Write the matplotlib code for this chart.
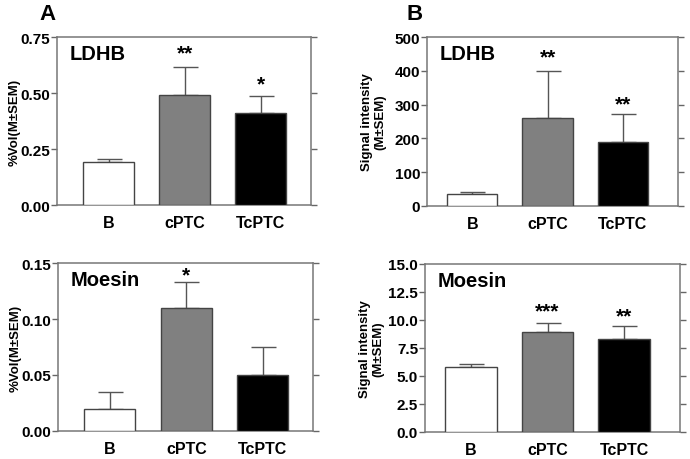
import matplotlib.pyplot as plt
import numpy as np

plt.rcParams['font.family'] = ['Liberation Sans', 'DejaVu Sans']
plt.rcParams['font.weight'] = 'bold'

groups = ['B', 'cPTC', 'TcPTC']
bar_colors = ['white', '#808080', 'black']

# panel A: %Vol
ldhb_vol = [0.19, 0.49, 0.41]
ldhb_vol_err = [0.015, 0.125, 0.075]
moesin_vol = [0.02, 0.11, 0.05]
moesin_vol_err = [0.015, 0.023, 0.025]

# panel B: signal intensity
ldhb_sig = [35, 260, 188]
ldhb_sig_err = [7, 138, 84]
moesin_sig = [5.8, 8.9, 8.3]
moesin_sig_err = [0.3, 0.8, 1.2]

ldhb_vol_stars = ['', '**', '*']
ldhb_sig_stars = ['', '**', '**']
moesin_vol_stars = ['', '*', '']
moesin_sig_stars = ['', '***', '**']

fig = plt.figure(figsize=(6.9, 4.6), dpi=100)
W, H = 690, 460

def panel(rect, vals, errs, stars, star_y, ylim, yticks, ticklabels, ylabel, name, xlim, lpad):
    l, t, r, b = rect
    ax = fig.add_axes([l / W, 1 - b / H, (r - l) / W, (b - t) / H])
    x = np.arange(len(groups))
    ax.bar(x, vals, width=0.67, color=bar_colors, edgecolor='#444444', linewidth=1.0, zorder=3)
    ax.errorbar(x, vals, yerr=[np.zeros(len(vals)), errs], fmt='none', ecolor='#555555',
                elinewidth=1.0, capsize=9, capthick=1.0, zorder=2)
    for xi, s, sy in zip(x, stars, star_y):
        if s:
            ax.text(xi, sy, s, ha='center', va='center', fontsize=15, fontweight='bold')
    ax.set_xlim(*xlim)
    ax.set_ylim(*ylim)
    ax.set_yticks(yticks)
    ax.set_yticklabels(ticklabels, fontsize=11, fontweight='bold')
    ax.set_xticks(x)
    ax.set_xticklabels(groups, fontsize=11.5, fontweight='bold')
    ax.tick_params(axis='x', length=0, pad=7)
    ax.tick_params(axis='y', direction='out', length=4, color='#666666', width=1.0, pad=1,
                   right=True, labelright=False)
    for sp in ax.spines.values():
        sp.set_color('#777777')
        sp.set_linewidth(1.1)
    ax.set_ylabel(ylabel, fontsize=9.5, fontweight='bold', labelpad=lpad, linespacing=1.1)
    ax.text(0.05, 0.9, name, transform=ax.transAxes, ha='left', va='center',
            fontsize=14.5, fontweight='bold')
    return ax

panel((57, 38, 311, 206), ldhb_vol, ldhb_vol_err, ldhb_vol_stars, [0.0, 0.68, 0.54],
      (0, 0.75), [0, 0.25, 0.5, 0.75], ['0.00', '0.25', '0.50', '0.75'],
      '%Vol(M±SEM)', 'LDHB', (-0.68, 2.66), 0)
panel((427, 38, 678, 207), ldhb_sig, ldhb_sig_err, ldhb_sig_stars, [0, 441, 302],
      (0, 500), [0, 100, 200, 300, 400, 500], ['0', '100', '200', '300', '400', '500'],
      'Signal intensity\n(M±SEM)', 'LDHB', (-0.6, 2.73), 6)
panel((58, 264, 313, 432), moesin_vol, moesin_vol_err, moesin_vol_stars, [0, 0.139, 0],
      (0, 0.15), [0, 0.05, 0.1, 0.15], ['0.00', '0.05', '0.10', '0.15'],
      '%Vol(M±SEM)', 'Moesin', (-0.68, 2.66), 0)
panel((425, 265, 680, 433), moesin_sig, moesin_sig_err, moesin_sig_stars, [0, 10.8, 10.4],
      (0, 15), [0, 2.5, 5, 7.5, 10, 12.5, 15], ['0.0', '2.5', '5.0', '7.5', '10.0', '12.5', '15.0'],
      'Signal intensity\n(M±SEM)', 'Moesin', (-0.6, 2.73), 3)

fig.text(47 / W, 1 - 14 / H, 'A', fontsize=16, fontweight='bold', ha='center', va='center')
fig.text(415 / W, 1 - 14 / H, 'B', fontsize=16, fontweight='bold', ha='center', va='center')

fig.savefig('out.png', dpi=100)
